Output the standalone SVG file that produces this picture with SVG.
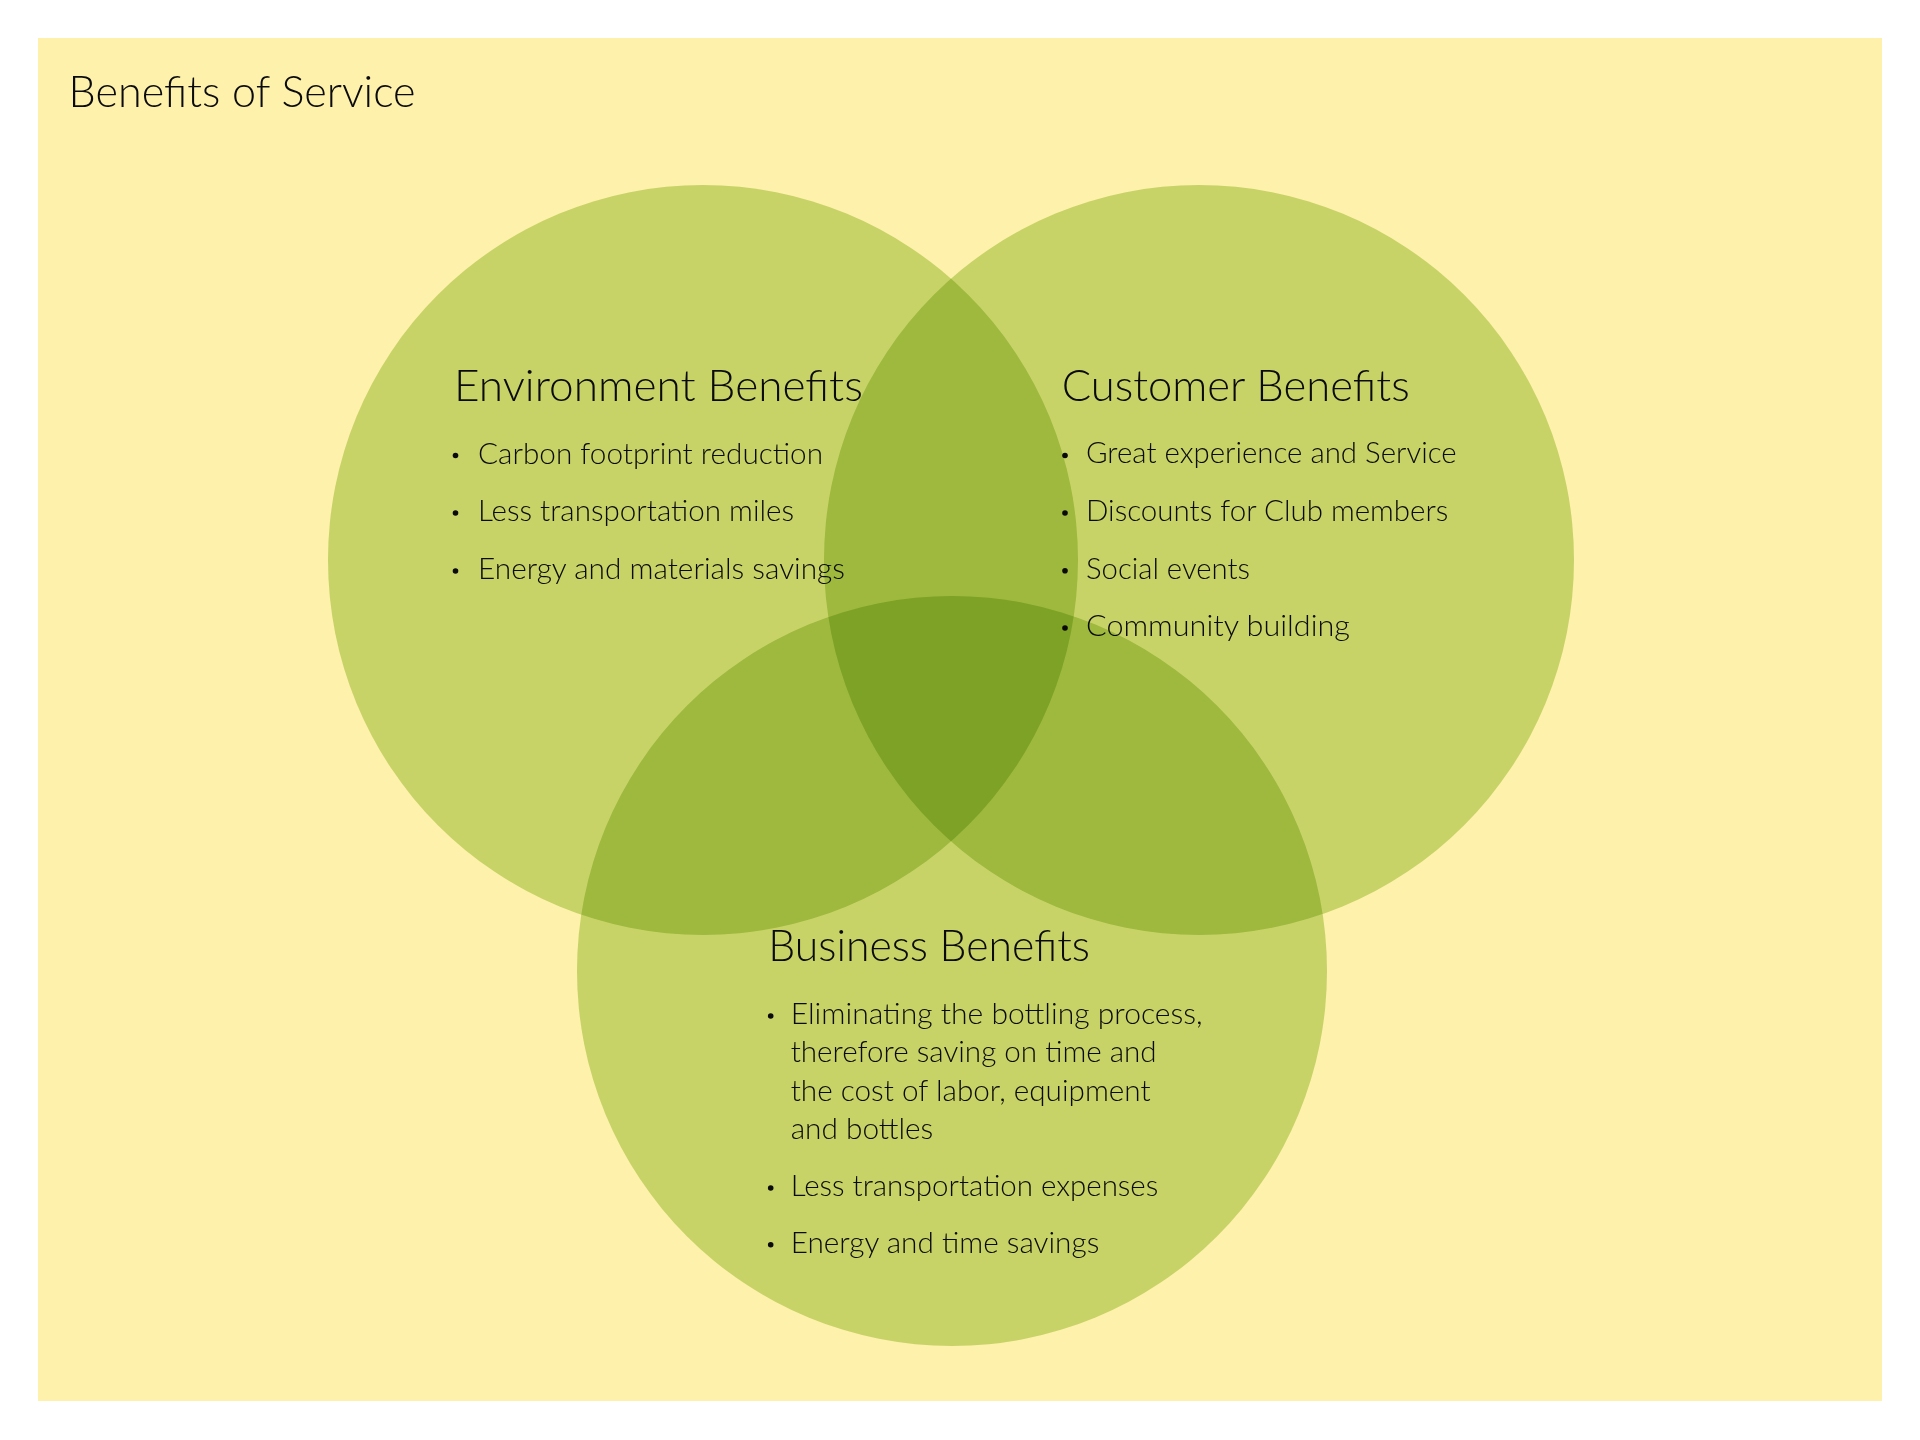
<svg xmlns="http://www.w3.org/2000/svg" width="1920" height="1440" viewBox="0 0 1920 1440">
<style>
.page{fill:#FFFFFF}
.bg{fill:#FEF1AB}
.set{fill:#C9E09A;mix-blend-mode:multiply}
text{font-family:Lato,"Open Sans","Liberation Sans",sans-serif;font-weight:300;fill:#0A0A0A}
.title{font-size:44px}
.h{font-size:44px}
.t{font-size:29px}
.dot{fill:#0A0A0A}
</style>
<rect class="page" x="0" y="0" width="1920" height="1440"/>
<rect class="bg" x="38" y="38" width="1844" height="1363"/>
<g id="title">
<text class="title" x="68.6" y="106.5" textLength="347" lengthAdjust="spacingAndGlyphs">Benefits of Service</text>
</g>
<g id="environment">
<circle class="set" cx="703" cy="560" r="375"/>
<text class="h" x="454" y="401" textLength="409" lengthAdjust="spacingAndGlyphs">Environment Benefits</text>
<circle class="dot" cx="455.5" cy="455.5" r="2.8"/>
<text class="t" x="478" y="463.5" textLength="345" lengthAdjust="spacingAndGlyphs">Carbon footprint reduction</text>
<circle class="dot" cx="455.5" cy="513" r="2.8"/>
<text class="t" x="478" y="521" textLength="316" lengthAdjust="spacingAndGlyphs">Less transportation miles</text>
<circle class="dot" cx="455.5" cy="571" r="2.8"/>
<text class="t" x="478" y="579" textLength="367" lengthAdjust="spacingAndGlyphs">Energy and materials savings</text>
</g>
<g id="customer">
<circle class="set" cx="1199" cy="560" r="375"/>
<text class="h" x="1061.7" y="401" textLength="348" lengthAdjust="spacingAndGlyphs">Customer Benefits</text>
<circle class="dot" cx="1065" cy="455.5" r="2.8"/>
<text class="t" x="1086" y="463.3" textLength="370.7" lengthAdjust="spacingAndGlyphs">Great experience and Service</text>
<circle class="dot" cx="1065" cy="513" r="2.8"/>
<text class="t" x="1086" y="521" textLength="362.3" lengthAdjust="spacingAndGlyphs">Discounts for Club members</text>
<circle class="dot" cx="1065" cy="570.7" r="2.8"/>
<text class="t" x="1086" y="578.7" textLength="164" lengthAdjust="spacingAndGlyphs">Social events</text>
<circle class="dot" cx="1065" cy="628" r="2.8"/>
<text class="t" x="1086" y="636" textLength="264" lengthAdjust="spacingAndGlyphs">Community building</text>
</g>
<g id="business">
<circle class="set" cx="952" cy="971" r="375"/>
<text class="h" x="768.3" y="961" textLength="321.7" lengthAdjust="spacingAndGlyphs">Business Benefits</text>
<circle class="dot" cx="770.7" cy="1016" r="2.8"/>
<text class="t" x="790.7" y="1024" textLength="412" lengthAdjust="spacingAndGlyphs">Eliminating the bottling process,</text>
<text class="t" x="790.7" y="1062.3" textLength="366" lengthAdjust="spacingAndGlyphs">therefore saving on time and</text>
<text class="t" x="790.7" y="1101" textLength="360" lengthAdjust="spacingAndGlyphs">the cost of labor, equipment</text>
<text class="t" x="790.7" y="1138.7" textLength="142.6" lengthAdjust="spacingAndGlyphs">and bottles</text>
<circle class="dot" cx="770.7" cy="1188" r="2.8"/>
<text class="t" x="790.7" y="1196" textLength="367.6" lengthAdjust="spacingAndGlyphs">Less transportation expenses</text>
<circle class="dot" cx="770.7" cy="1244.7" r="2.8"/>
<text class="t" x="790.7" y="1252.7" textLength="308.6" lengthAdjust="spacingAndGlyphs">Energy and time savings</text>
</g>
</svg>
